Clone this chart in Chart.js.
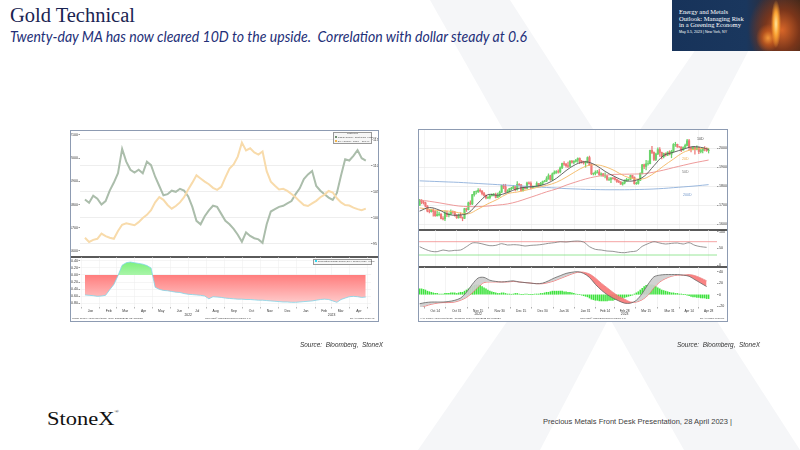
<!DOCTYPE html>
<html lang="en">
<head>
<meta charset="UTF-8">
<title>Gold Technical</title>
<script src="https://cdn.jsdelivr.net/npm/chart.js"></script>
<style>
  html, body { margin: 0; padding: 0; }
  body { width: 800px; height: 450px; position: relative; overflow: hidden; background: #fff; font-family: "Liberation Sans", Arial, sans-serif; }
  .abs { position: absolute; white-space: nowrap; line-height: 1; }
  canvas { position: absolute; display: block; }
  .frame { position: absolute; border: 1px solid #8d9bb2; background: #fff; box-sizing: border-box; }
  .sep { position: absolute; height: 1.5px; background: #5a5a5a; }
  .tiny { position: absolute; white-space: nowrap; line-height: 1; font-size: 2.5px; color: #444; }
  .sq { display: inline-block; width: 2px; height: 2px; vertical-align: middle; }
</style>
</head>
<body>
<!-- watermark X -->
<svg class="abs" width="800" height="450" style="left:0;top:0">
  <polygon points="430,0 510,0 800,450 684,450" fill="#f5f6f8"/>
  <polygon points="730,0 775,0 540,450 418,450" fill="#f5f6f8"/>
</svg>

<div id="title" class="abs" style="left:10px;top:5px;font-family:'Liberation Serif',serif;font-size:20px;color:#1a2452;">Gold Technical</div>
<div id="subtitle" class="abs" style="left:10px;top:29px;font-family:Lato,sans-serif;font-style:italic;font-size:15px;color:#232f78;">Twenty-day MA has now cleared 10D to the upside.&nbsp; Correlation with dollar steady at 0.6</div>

<div class="abs" style="left:672px;top:0;width:128px;height:51px;overflow:hidden;background:
  radial-gradient(ellipse 5px 24px at 104px 24px, #ffe69a 0%, #f9a233 50%, rgba(235,120,30,0) 100%),
  radial-gradient(ellipse 12px 14px at 96px 38px, rgba(255,160,60,0.9) 0%, rgba(220,100,30,0.6) 50%, rgba(120,50,25,0) 100%),
  radial-gradient(ellipse 34px 40px at 110px 30px, rgba(225,105,40,0.95) 0%, rgba(130,55,25,0.9) 50%, rgba(40,35,45,0) 100%),
  linear-gradient(90deg, #17335a 0%, #1a375e 58%, #2b2f40 72%, #3b2619 100%);">
  <div class="abs" style="left:7px;top:9px;font-family:'Liberation Serif',serif;font-size:6.5px;line-height:6.7px;color:#fff;">Energy and Metals<br>Outlook: Managing Risk<br>in a Greening Economy</div>
  <div class="abs" style="left:7px;top:31px;font-size:3.6px;color:#fff;">May 3-5, 2023 | New York, NY</div>
</div>

<!-- left chart -->
<div class="frame" style="left:70px;top:130px;width:309px;height:192px;"></div>
<canvas id="cGold" width="307" height="125" style="left:71px;top:131px;"></canvas>
<div class="sep" style="left:71px;top:256px;width:307px;"></div>
<canvas id="cCorr" width="300" height="61" style="left:71px;top:257px;"></canvas>
<div class="tiny" style="left:333px;top:131.5px;width:37px;height:10px;border:0.4px solid #999;background:#f6f6f6;">
  <div style="text-align:center;margin-top:0.6px;">Last Price</div>
  <div style="margin-top:0.8px;padding-left:1px;"><span class="sq" style="background:#6f8f6f"></span> GOLD Curncy&nbsp; Spot $/Oz&nbsp; 1988.96</div>
  <div style="margin-top:0.6px;padding-left:1px;"><span class="sq" style="background:#f2b64e"></span> DXY Curncy&nbsp; Index&nbsp;&nbsp;&nbsp; 101.49</div>
</div>
<div class="tiny" style="left:313px;top:259px;width:56px;height:3.6px;border:0.4px solid #999;background:#f6f6f6;padding-left:1px;"><span class="sq" style="background:#30d8f0"></span> Correlation(GOLD Curncy,DXY Curncy,90D) -0.608</div>
<div class="tiny" style="left:72px;top:318px;">GOLD Curncy (Gold Spot $/Oz)&nbsp; Daily 31DEC2021-28APR2023</div>
<div class="tiny" style="left:205px;top:318px;">Copyright© 2023 Bloomberg Finance L.P.</div>
<div class="tiny" style="left:350px;top:318px;">28-Apr-2023 10:26:45</div>

<!-- right chart -->
<div class="frame" style="left:418px;top:129px;width:310px;height:193px;"></div>
<canvas id="cPrice" width="308" height="99" style="left:419px;top:130px;"></canvas>
<div class="sep" style="left:419px;top:229px;width:308px;"></div>
<canvas id="cRsi" width="308" height="36" style="left:419px;top:230px;"></canvas>
<div class="sep" style="left:419px;top:266px;width:308px;"></div>
<canvas id="cMacd" width="308" height="51" style="left:419px;top:267px;"></canvas>
<div class="tiny" style="left:420px;top:318px;">XAU Curncy (Gold Spot $/Oz)&nbsp; Technical&nbsp; Daily 04OCT2022-28APR2023</div>
<div class="tiny" style="left:580px;top:318px;">Copyright© 2023 Bloomberg Finance L.P.</div>
<div class="tiny" style="left:700px;top:318px;">28-Apr-2023 10:26:51</div>

<div id="src1" class="abs" style="left:300px;top:341px;font-size:7px;font-style:italic;color:#333;">Source:&nbsp; Bloomberg,&nbsp; StoneX</div>
<div id="src2" class="abs" style="left:677px;top:341px;font-size:7px;font-style:italic;color:#333;">Source:&nbsp; Bloomberg,&nbsp; StoneX</div>
<div id="logo" class="abs" style="left:47px;top:409px;font-family:'Liberation Serif',serif;font-size:19px;color:#111;">StoneX<span style="font-size:5px;vertical-align:top;">®</span></div>
<div id="footer" class="abs" style="left:543px;top:418px;font-size:8px;color:#404040;">Precious Metals Front Desk Presentation, 28 April 2023 |</div>

<script>
// ---------- left chart: weekly closes, Fridays from 7 Jan 2022 ----------
const leftFirstFriday = 6; // days after 1 Jan 2022
const goldWeekly = [1822, 1808, 1838, 1825, 1800, 1815, 1860, 1895, 1935, 2040,
  1985, 1950, 1938, 1950, 1935, 1985, 1970, 1920, 1880, 1840,
  1845, 1860, 1855, 1868, 1860, 1835, 1790, 1730, 1715, 1750,
  1775, 1795, 1790, 1760, 1730, 1715, 1695, 1670, 1640, 1680,
  1665, 1655, 1650, 1635, 1715, 1770, 1780, 1790, 1795, 1805,
  1815, 1845, 1870, 1910, 1930, 1945, 1880, 1860, 1845, 1830,
  1820, 1850, 1925, 1995, 1990, 2010, 2035, 2000, 1990];
const dxyWeekly = [96.2, 95.4, 95.8, 96.0, 97.0, 96.5, 96.2, 96.0, 97.5, 98.7,
  99.0, 98.8, 98.6, 99.2, 100.0, 100.6, 101.5, 103.0, 104.0, 103.5,
  102.5, 101.8, 102.3, 103.0, 104.0, 105.5, 106.8, 108.2, 107.6, 107.0,
  106.5, 105.8, 105.4, 106.0, 107.8, 109.5, 110.3, 111.8, 114.5, 113.0,
  113.4, 112.6, 112.2, 112.8, 109.0, 107.0, 106.2, 105.5, 105.6, 105.2,
  104.6, 104.0, 103.2, 102.5, 102.3, 102.8, 103.3, 104.0, 104.5, 105.2,
  104.9, 103.8, 103.0, 102.5, 102.4, 102.0, 101.7, 101.5, 101.8];
const corrWeekly = [-0.57, -0.58, -0.59, -0.61, -0.60, -0.58, -0.42, -0.27, -0.02, 0.28,
  0.35, 0.37, 0.35, 0.33, 0.31, 0.27, 0.20, -0.35, -0.41, -0.44,
  -0.45, -0.47, -0.49, -0.50, -0.53, -0.55, -0.56, -0.57, -0.58, -0.60,
  -0.68, -0.62, -0.63, -0.64, -0.66, -0.67, -0.68, -0.69, -0.69, -0.70,
  -0.70, -0.71, -0.72, -0.72, -0.73, -0.74, -0.75, -0.76, -0.77, -0.77,
  -0.78, -0.78, -0.77, -0.76, -0.75, -0.74, -0.72, -0.70, -0.69, -0.70,
  -0.74, -0.78, -0.70, -0.66, -0.62, -0.61, -0.62, -0.64, -0.63];
const leftMonthLabels = ['Jan','Feb','Mar','Apr','May','Jun','Jul','Aug','Sep','Oct','Nov','Dec','Jan','Feb','Mar','Apr'];
const goldTicks = [1600, 1700, 1800, 1900, 2000, 2100];
const dxyTicks = [95, 100, 105, 110, 115];
const corrTicks = [0.4, 0.2, 0, -0.2, -0.4, -0.6, -0.8];

// ---------- right chart: daily gold from 4 Oct 2022 ----------
const firstOpen = 1700;
const goldClose = [
  1725,1716,1712,1695,1668,1666,1673,1666,1644,1650,1652,1629,1627,1657,1649,1652,1665,1663,1645,1633,
  1648,1634,1630,1681,1676,1712,1706,1755,1771,1771,1778,1774,1761,1751,1738,1740,1750,1755,1755,1741,1750,1768,
  1803,1797,1769,1771,1787,1789,1797,1781,1810,1807,1777,1793,1788,1817,1814,1792,1798,1798,1814,1805,1815,1824,
  1827,1839,1855,1833,1865,1872,1877,1875,1897,1920,1916,1908,1905,1932,1926,1931,1937,1946,1930,1928,1923,1928,
  1951,1912,1865,1867,1873,1875,1861,1865,1854,1854,1836,1836,1842,1841,1835,1825,1822,1811,1817,1827,
  1836,1836,1856,1847,1813,1815,1831,1868,1913,1904,1918,1919,1989,1978,1941,1970,1993,1978,1956,1973,1964,1980,1969,
  1984,2020,2021,2008,2007,1991,2004,2015,2040,2004,1995,2005,1995,2004,1983,1988,1998,1996,1988,1990];
const goldHigh = [
  1730,1729,1721,1716,1697,1677,1679,1680,1671,1668,1663,1655,1639,1669,1668,1659,1675,1669,1667,1650,
  1652,1659,1637,1683,1684,1716,1722,1757,1773,1775,1787,1786,1777,1768,1754,1745,1753,1759,1762,1764,1763,1774,
  1805,1810,1810,1781,1789,1794,1804,1798,1824,1814,1809,1797,1797,1822,1823,1823,1802,1800,1823,1814,1820,1827,
  1831,1850,1865,1858,1870,1881,1882,1886,1902,1922,1930,1920,1927,1935,1937,1935,1942,1949,1949,1936,1932,1932,
  1955,1959,1918,1870,1881,1883,1890,1871,1868,1870,1856,1845,1846,1847,1847,1838,1832,1824,1821,1833,
  1841,1838,1858,1857,1849,1821,1835,1870,1915,1917,1937,1934,1990,2010,1982,1975,2003,2004,1980,1975,1976,1982,1987,
  1990,2025,2032,2022,2010,2008,2008,2022,2048,2047,2006,2009,2008,2013,2007,1994,2004,2009,2003,1999];
const goldLow = [
  1698,1707,1705,1690,1664,1658,1662,1642,1640,1641,1643,1627,1621,1618,1639,1638,1649,1656,1641,1629,
  1631,1632,1617,1628,1666,1674,1701,1702,1747,1759,1765,1768,1754,1747,1733,1734,1733,1747,1748,1738,1740,1744,
  1766,1787,1767,1765,1769,1781,1786,1775,1779,1801,1774,1774,1784,1786,1811,1785,1792,1794,1797,1796,1802,1808,
  1822,1824,1836,1831,1830,1865,1867,1868,1870,1892,1910,1900,1897,1901,1922,1917,1927,1925,1919,1921,1916,1900,
  1922,1911,1861,1859,1860,1869,1857,1853,1852,1843,1830,1829,1819,1837,1831,1820,1818,1809,1805,1812,
  1827,1830,1834,1842,1810,1809,1811,1829,1864,1893,1886,1911,1918,1972,1935,1934,1967,1957,1944,1949,1959,1961,1965,
  1950,1979,2010,2004,2004,1982,1990,1999,2012,1992,1981,1991,1969,1992,1971,1976,1975,1986,1983,1975];

// moving averages read every 5 sessions
const maDays = [0,5,10,15,20,25,30,35,40,45,50,55,60,65,70,75,80,85,90,95,100,105,110,115,120,125,130,135,140,145,148];
const ma10 = [1668,1687,1674,1650,1647,1659,1711,1755,1752,1766,1787,1795,1800,1813,1841,1882,1915,1929,1912,1878,1850,1829,1829,1852,1908,1962,1979,1995,2009,2003,1994];
const ma20 = [1685,1678,1671,1668,1660,1654,1679,1707,1731,1760,1769,1780,1793,1804,1820,1847,1878,1905,1913,1903,1881,1853,1839,1840,1868,1907,1943,1978,1994,1999,2000];
const ma50 = [1727,1720,1712,1703,1695,1692,1692,1695,1700,1706,1718,1735,1752,1770,1785,1805,1822,1838,1850,1858,1862,1863,1864,1866,1874,1885,1898,1910,1922,1932,1938];
const ma200 = [1828,1826,1824,1822,1820,1817,1814,1811,1808,1805,1802,1799,1796,1793,1790,1787,1785,1783,1782,1781,1781,1781,1782,1783,1785,1788,1792,1796,1800,1805,1808];

// oscillators read every 3 sessions
const oscStep = 3;
const rsi14 = [55,47,41,40,45,42,44,45,55,66,66,62,58,59,64,60,61,60,57,59,60,62,65,67,70,69,71,72,69,55,47,45,42,41,38,37,40,42,56,64,70,66,63,65,66,63,67,59,55,53];
const macdLine = [-16,-14,-13,-13,-13,-12,-10,-6,4,18,29,30,25,23,22,23,24,22,21,20,19,20,24,29,33,37,39,40,37,30,18,8,0,-6,-11,-15,-15,-10,2,18,31,34,35,35,35,34,32,26,20,14];
const macdSignal = [-24,-20,-17,-15,-14,-14,-13,-10,-5,3,13,21,22,22,22,22,23,22,21,20,19,19,21,24,28,32,36,39,39,36,29,20,12,4,-3,-8,-13,-13,-9,-1,12,22,28,32,34,34,35,33,29,24];
const macdHist = [10,10,9,8,6, 5,4,3,2,2, 1,1,1,2,2, 2,3,3,3,2, 3,4,4,6,8, 10,12,14,16,17,
  17,16,14,12,10, 8,6,5,4,3, 2,2,3,3,2, 1,1,0.5,1,2, 2,1,0,0.5,1, 1,0.5,0,0,1,
  1,1,2,2,3, 4,4,5,6,6, 6,6,6,6,5, 5,4,4,3,2, 1,0.5,0,-1,-2, -3,-4,-6,-8,-9,
  -10,-10,-11,-11,-11, -11,-11,-10,-10,-10, -9,-9,-8,-7,-6, -5,-4,-3,-2,-1,
  1,3,5,8,11, 14,16,17,17,17, 16,14,12,10,8, 7,6,5,4,3, 3,2,2,1,1,
  0.5,0,-1,-2,-3, -4,-4,-5,-5,-6, -6,-6,-7,-7];
const priceTicks = [1600, 1700, 1800, 1900, 2000];
const rsiTicks = [0, 50, 100];
const rsiLevels = [70, 30];
const macdTicks = [-20, 0, 20, 40];
const rightTickDays = [8,19,30,41,52,63,74,85,95,105,116,128,138,148];
const rightTickLabels = ['Oct 14','Oct 31','Nov 15','Nov 30','Dec 15','Dec 30','Jan 16','Jan 31','Feb 14','Feb 28','Mar 15','Mar 31','Apr 14','Apr 28'];

// ---------- helpers ----------
Chart.defaults.font.family = "'Liberation Sans', Arial, sans-serif";
Chart.defaults.font.size = 3.6;
Chart.defaults.color = '#333';

function flat(s) { s.paddingTop = 0; s.paddingBottom = 0; s.paddingLeft = 0; s.paddingRight = 0; }

function vAxis(position, min, max, ticks, width, gridColor, fmt) {
  return {
    type: 'linear', position, min, max,
    afterBuildTicks: s => { s.ticks = ticks.map(v => ({ value: v })); },
    afterFit: s => { s.width = width; flat(s); },
    border: { display: false },
    grid: { drawOnChartArea: !!gridColor, color: gridColor || '#555', tickColor: '#555', tickLength: 1.5, lineWidth: 0.6 },
    ticks: { padding: 0.6, color: '#333', callback: fmt || (v => String(v)) }
  };
}

function opts(scales) {
  return {
    responsive: false, animation: false, events: [],
    layout: { padding: 0 },
    plugins: { legend: { display: false }, tooltip: { enabled: false } },
    scales
  };
}

function yearPlugin(items, dy) {
  return { id: 'yearLabels', afterDraw(chart) {
    const { ctx, chartArea } = chart;
    ctx.save();
    ctx.font = "3.4px 'Liberation Sans'";
    ctx.fillStyle = '#333'; ctx.textAlign = 'center'; ctx.textBaseline = 'middle';
    items.forEach(it => ctx.fillText(it.text, chart.scales.x.getPixelForValue(it.at), chartArea.bottom + dy));
    ctx.restore();
  }};
}

function levelPlugin(levels, colors) {
  return { id: 'levels', beforeDatasetsDraw(chart) {
    const { ctx, chartArea: a } = chart;
    const y = chart.scales.y;
    ctx.save(); ctx.lineWidth = 0.8;
    levels.forEach((v, k) => {
      const py = y.getPixelForValue(v);
      ctx.strokeStyle = colors[k];
      ctx.beginPath(); ctx.moveTo(a.left, py); ctx.lineTo(a.right, py); ctx.stroke();
    });
    ctx.restore();
  }};
}

function tagPlugin(items) {
  return { id: 'tags', afterDatasetsDraw(chart) {
    const { ctx } = chart; const x = chart.scales.x, y = chart.scales.y;
    ctx.save(); ctx.font = "3.6px 'Liberation Sans'"; ctx.textAlign = 'center'; ctx.textBaseline = 'middle';
    items.forEach(t => { ctx.fillStyle = t.color; ctx.fillText(t.text, x.getPixelForValue(t.x), y.getPixelForValue(t.y)); });
    ctx.restore();
  }};
}

// ---------- left: gold vs dollar ----------
const leftMin = -2.4, leftMax = 490.8;
const weekPts = arr => arr.map((v, i) => ({ x: leftFirstFriday + 7 * i, y: v }));
const monthStartDays = [];
for (let m = 0; m <= 16; m++) monthStartDays.push((Date.UTC(2022, m, 1) - Date.UTC(2022, 0, 1)) / 864e5);

new Chart(document.getElementById('cGold'), {
  type: 'line',
  data: { datasets: [
    { label: 'DXY Curncy', data: weekPts(dxyWeekly), yAxisID: 'yD', borderColor: '#f8dbab', borderWidth: 2, pointRadius: 0 },
    { label: 'GOLD Curncy', data: weekPts(goldWeekly), yAxisID: 'yG', borderColor: '#abbdab', borderWidth: 2, pointRadius: 0 }
  ]},
  options: opts({
    x: { type: 'linear', min: leftMin, max: leftMax, display: false },
    yG: vAxis('left', 1578.4, 2117.2, goldTicks, 9, null),
    yD: vAxis('right', 92.69, 116.73, dxyTicks, 7, '#e3e3e3')
  })
});

const corrMin = -0.914, corrMax = 0.514, corrPlotH = 50;
const corrCanvas = document.getElementById('cCorr');
const cctx = corrCanvas.getContext('2d');
const zeroY = corrMax / (corrMax - corrMin) * corrPlotH;
const redFill = cctx.createLinearGradient(0, zeroY, 0, corrPlotH);
redFill.addColorStop(0, '#ff7d7d'); redFill.addColorStop(1, '#ffd6d6');
const greenFill = cctx.createLinearGradient(0, 0, 0, zeroY);
greenFill.addColorStop(0, '#6cef6c'); greenFill.addColorStop(1, '#a9f5a9');

new Chart(corrCanvas, {
  type: 'line',
  data: { datasets: [
    { label: 'Correlation', data: weekPts(corrWeekly), borderColor: '#7fd6e8', borderWidth: 0.8, pointRadius: 0,
      fill: { target: { value: 0 }, above: greenFill, below: redFill } }
  ]},
  options: opts({
    x: { type: 'linear', min: leftMin, max: leftMax,
      afterBuildTicks: s => { s.ticks = monthStartDays.map(v => ({ value: v })); },
      afterFit: s => { s.height = 11; flat(s); },
      border: { display: false },
      grid: { color: '#ececec', lineWidth: 0.5, tickLength: 1.5, tickColor: '#777' },
      ticks: { autoSkip: false, maxRotation: 0, padding: 0.5, labelOffset: 9, font: { size: 3.4 }, callback: (v, i) => leftMonthLabels[i] || '' } },
    y: vAxis('left', corrMin, corrMax, corrTicks, 9, '#efefef', v => v.toFixed(2))
  }),
  plugins: [yearPlugin([{ text: '2022', at: monthStartDays[6] }, { text: '2023', at: monthStartDays[14] }], 8.5)]
});

// ---------- right: daily candles, MAs, RSI, MACD ----------
const opens = goldClose.map((c, i) => i === 0 ? firstOpen : goldClose[i - 1]);
const candleColor = goldClose.map((c, i) => c >= opens[i] ? '#6bd46b' : '#ef7878');
const maPts = arr => arr.map((v, k) => ({ x: maDays[k], y: v }));
const oscPts = arr => arr.map((v, k) => ({ x: k * oscStep, y: v }));

function rightX(labels) {
  return {
    type: 'linear', min: -0.3, max: 152.3, offset: false,
    afterBuildTicks: s => { s.ticks = rightTickDays.map(v => ({ value: v })); },
    afterFit: s => { s.height = labels ? 11 : 0; flat(s); },
    border: { display: false },
    grid: { color: '#ececec', lineWidth: 0.6, drawTicks: labels, tickLength: 1.5, tickColor: '#777' },
    ticks: { display: labels, autoSkip: false, maxRotation: 0, padding: 0.5, font: { size: 3.2 }, callback: (v, i) => rightTickLabels[i] }
  };
}

new Chart(document.getElementById('cPrice'), {
  type: 'bar',
  data: { datasets: [
    { type: 'line', label: '10D', data: maPts(ma10), borderColor: '#555', borderWidth: 0.9, pointRadius: 0, tension: 0.35, order: 0 },
    { type: 'line', label: '20D', data: maPts(ma20), borderColor: '#f4b862', borderWidth: 0.9, pointRadius: 0, tension: 0.35, order: 0 },
    { type: 'line', label: '50D', data: maPts(ma50), borderColor: '#ec8f8f', borderWidth: 0.9, pointRadius: 0, tension: 0.35, order: 0 },
    { type: 'line', label: '200D', data: maPts(ma200), borderColor: '#8fb0da', borderWidth: 0.9, pointRadius: 0, tension: 0.35, order: 0 },
    { label: 'range', data: goldClose.map((c, i) => ({ x: i, y: [goldLow[i], goldHigh[i]] })), backgroundColor: candleColor, barThickness: 0.6, grouped: false, order: 2 },
    { label: 'body', data: goldClose.map((c, i) => ({ x: i, y: [opens[i], c] })), backgroundColor: candleColor, barThickness: 1.5, grouped: false, order: 1 }
  ]},
  options: opts({
    x: rightX(false),
    y: vAxis('right', 1573.6, 2096.7, priceTicks, 10, '#e6e6e6')
  }),
  plugins: [tagPlugin([
    { text: '10D', x: 143.8, y: 2047, color: '#444' },
    { text: '20D', x: 136.1, y: 1942, color: '#f0b050' },
    { text: '50D', x: 136.1, y: 1876, color: '#777' },
    { text: '200D', x: 137.1, y: 1753, color: '#6f95c9' }
  ])]
});

new Chart(document.getElementById('cRsi'), {
  type: 'line',
  data: { datasets: [
    { label: 'RSI', data: oscPts(rsi14), borderColor: '#7a7a7a', borderWidth: 0.8, pointRadius: 0, tension: 0.3 }
  ]},
  options: opts({
    x: rightX(false),
    y: vAxis('right', -3, 105.1, rsiTicks, 10, null)
  }),
  plugins: [levelPlugin(rsiLevels, ['#f08a8a', '#7fe07f'])]
});

new Chart(document.getElementById('cMacd'), {
  type: 'bar',
  data: { datasets: [
    { type: 'line', label: 'MACD', data: oscPts(macdLine), borderColor: '#666', borderWidth: 0.8, pointRadius: 0, tension: 0.3, order: 0,
      fill: { target: '+1', above: 'rgba(205,205,205,0.9)', below: 'rgba(248,118,118,0.9)' } },
    { type: 'line', label: 'Signal', data: oscPts(macdSignal), borderColor: '#ef6f6f', borderWidth: 0.8, pointRadius: 0, tension: 0.3, order: 0 },
    { label: 'Hist', data: macdHist.map((v, i) => ({ x: i, y: v })), backgroundColor: '#3ee23e', barThickness: 0.9, order: 1 }
  ]},
  options: opts({
    x: rightX(true),
    y: vAxis('right', -21.7, 48.2, macdTicks, 10, null)
  }),
  plugins: [yearPlugin([{ text: '2022', at: rightTickDays[2] }, { text: '2023', at: rightTickDays[9] }], 7)]
});

// stretch slide texts to the reference widths
function fitWidth(id, w) {
  const el = document.getElementById(id);
  const r = el.getBoundingClientRect().width;
  el.style.transformOrigin = 'left top';
  el.style.transform = 'scaleX(' + (w / r) + ')';
}
fitWidth('title', 125);
fitWidth('subtitle', 517);
fitWidth('logo', 72);
fitWidth('footer', 189);
fitWidth('src1', 83);
fitWidth('src2', 83);
</script>
</body>
</html>
